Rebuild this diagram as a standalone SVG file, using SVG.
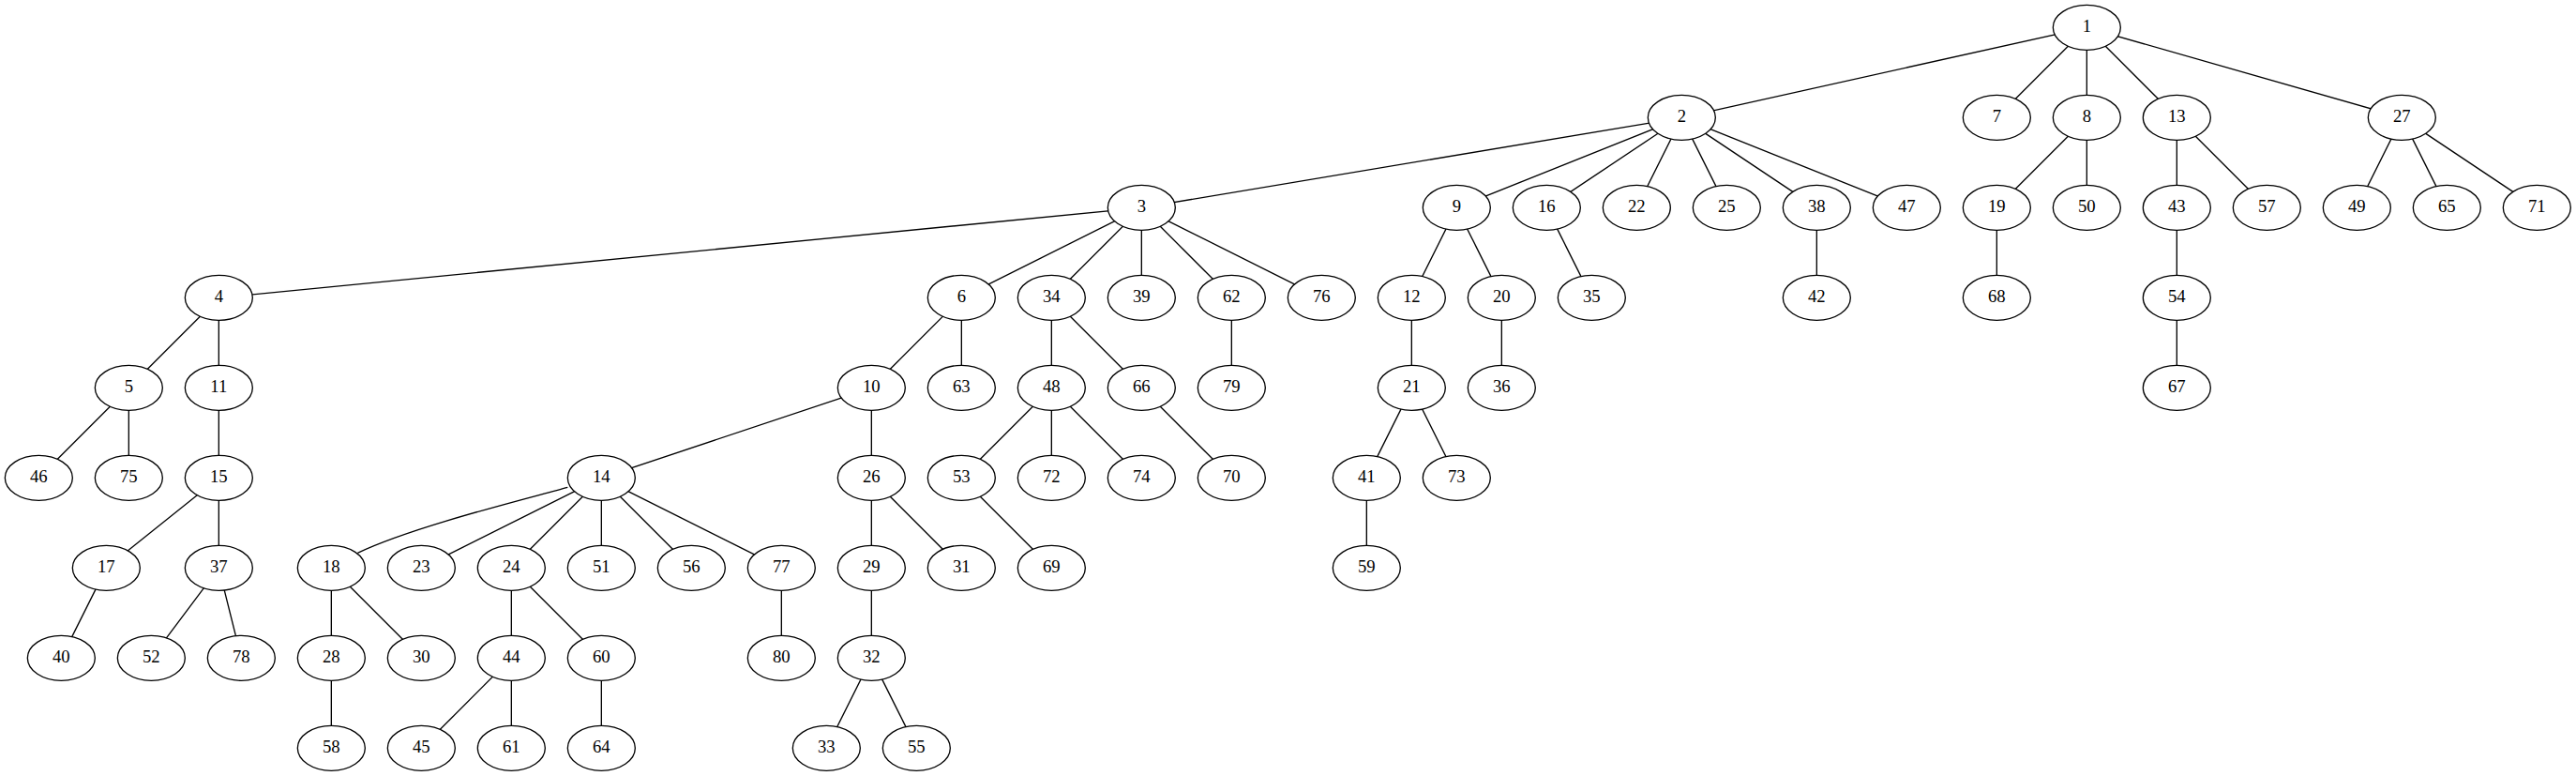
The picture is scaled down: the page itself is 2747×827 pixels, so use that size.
<svg xmlns="http://www.w3.org/2000/svg" width="2747" height="827" viewBox="0 0 2747 827">
<style>
.node ellipse{fill:#fff;stroke:#000;stroke-width:1}
.node text{font-family:"Liberation Serif","Times New Roman",serif;font-size:14px;text-anchor:middle;fill:#000}
#edges line,#edges path{stroke:#000;stroke-width:1;fill:none}
</style>
<rect x="0" y="0" width="2747" height="827" fill="#fff"/>
<g transform="scale(1.33333)">
<g id="edges">
<line x1="1669" y1="22" x2="1345" y2="94"/>
<line x1="1669" y1="22" x2="1597" y2="94"/>
<line x1="1669" y1="22" x2="1669" y2="94"/>
<line x1="1669" y1="22" x2="1741" y2="94"/>
<line x1="1669" y1="22" x2="1921" y2="94"/>
<line x1="1345" y1="94" x2="913" y2="166"/>
<line x1="1345" y1="94" x2="1165" y2="166"/>
<line x1="1345" y1="94" x2="1237" y2="166"/>
<line x1="1345" y1="94" x2="1309" y2="166"/>
<line x1="1345" y1="94" x2="1381" y2="166"/>
<line x1="1345" y1="94" x2="1453" y2="166"/>
<line x1="1345" y1="94" x2="1525" y2="166"/>
<line x1="1669" y1="94" x2="1597" y2="166"/>
<line x1="1669" y1="94" x2="1669" y2="166"/>
<line x1="1741" y1="94" x2="1741" y2="166"/>
<line x1="1741" y1="94" x2="1813" y2="166"/>
<line x1="1921" y1="94" x2="1885" y2="166"/>
<line x1="1921" y1="94" x2="1957" y2="166"/>
<line x1="1921" y1="94" x2="2029" y2="166"/>
<line x1="913" y1="166" x2="175" y2="238"/>
<line x1="913" y1="166" x2="769" y2="238"/>
<line x1="913" y1="166" x2="841" y2="238"/>
<line x1="913" y1="166" x2="913" y2="238"/>
<line x1="913" y1="166" x2="985" y2="238"/>
<line x1="913" y1="166" x2="1057" y2="238"/>
<line x1="1165" y1="166" x2="1129" y2="238"/>
<line x1="1165" y1="166" x2="1201" y2="238"/>
<line x1="1237" y1="166" x2="1273" y2="238"/>
<line x1="1453" y1="166" x2="1453" y2="238"/>
<line x1="1597" y1="166" x2="1597" y2="238"/>
<line x1="1741" y1="166" x2="1741" y2="238"/>
<line x1="175" y1="238" x2="103" y2="310"/>
<line x1="175" y1="238" x2="175" y2="310"/>
<line x1="769" y1="238" x2="697" y2="310"/>
<line x1="769" y1="238" x2="769" y2="310"/>
<line x1="841" y1="238" x2="841" y2="310"/>
<line x1="841" y1="238" x2="913" y2="310"/>
<line x1="985" y1="238" x2="985" y2="310"/>
<line x1="1129" y1="238" x2="1129" y2="310"/>
<line x1="1201" y1="238" x2="1201" y2="310"/>
<line x1="1741" y1="238" x2="1741" y2="310"/>
<line x1="103" y1="310" x2="31" y2="382"/>
<line x1="103" y1="310" x2="103" y2="382"/>
<line x1="175" y1="310" x2="175" y2="382"/>
<line x1="697" y1="310" x2="481" y2="382"/>
<line x1="697" y1="310" x2="697" y2="382"/>
<line x1="841" y1="310" x2="769" y2="382"/>
<line x1="841" y1="310" x2="841" y2="382"/>
<line x1="841" y1="310" x2="913" y2="382"/>
<line x1="913" y1="310" x2="985" y2="382"/>
<line x1="1129" y1="310" x2="1093" y2="382"/>
<line x1="1129" y1="310" x2="1165" y2="382"/>
<line x1="175" y1="382" x2="85" y2="454"/>
<line x1="175" y1="382" x2="175" y2="454"/>
<path d="M454,389.5 C420,399 330,421 286,442"/>
<line x1="481" y1="382" x2="337" y2="454"/>
<line x1="481" y1="382" x2="409" y2="454"/>
<line x1="481" y1="382" x2="481" y2="454"/>
<line x1="481" y1="382" x2="553" y2="454"/>
<line x1="481" y1="382" x2="625" y2="454"/>
<line x1="697" y1="382" x2="697" y2="454"/>
<line x1="697" y1="382" x2="769" y2="454"/>
<line x1="769" y1="382" x2="841" y2="454"/>
<line x1="1093" y1="382" x2="1093" y2="454"/>
<line x1="85" y1="454" x2="49" y2="526"/>
<line x1="175" y1="454" x2="121" y2="526"/>
<line x1="175" y1="454" x2="193" y2="526"/>
<line x1="265" y1="454" x2="265" y2="526"/>
<line x1="265" y1="454" x2="337" y2="526"/>
<line x1="409" y1="454" x2="409" y2="526"/>
<line x1="409" y1="454" x2="481" y2="526"/>
<line x1="625" y1="454" x2="625" y2="526"/>
<line x1="697" y1="454" x2="697" y2="526"/>
<line x1="265" y1="526" x2="265" y2="598"/>
<line x1="409" y1="526" x2="337" y2="598"/>
<line x1="409" y1="526" x2="409" y2="598"/>
<line x1="481" y1="526" x2="481" y2="598"/>
<line x1="697" y1="526" x2="661" y2="598"/>
<line x1="697" y1="526" x2="733" y2="598"/>
</g>
<g id="n1" class="node"><ellipse cx="1669" cy="22" rx="27" ry="18"/><text x="1669" y="25.7">1</text></g>
<g id="n2" class="node"><ellipse cx="1345" cy="94" rx="27" ry="18"/><text x="1345" y="97.7">2</text></g>
<g id="n7" class="node"><ellipse cx="1597" cy="94" rx="27" ry="18"/><text x="1597" y="97.7">7</text></g>
<g id="n8" class="node"><ellipse cx="1669" cy="94" rx="27" ry="18"/><text x="1669" y="97.7">8</text></g>
<g id="n13" class="node"><ellipse cx="1741" cy="94" rx="27" ry="18"/><text x="1741" y="97.7">13</text></g>
<g id="n27" class="node"><ellipse cx="1921" cy="94" rx="27" ry="18"/><text x="1921" y="97.7">27</text></g>
<g id="n3" class="node"><ellipse cx="913" cy="166" rx="27" ry="18"/><text x="913" y="169.7">3</text></g>
<g id="n9" class="node"><ellipse cx="1165" cy="166" rx="27" ry="18"/><text x="1165" y="169.7">9</text></g>
<g id="n16" class="node"><ellipse cx="1237" cy="166" rx="27" ry="18"/><text x="1237" y="169.7">16</text></g>
<g id="n22" class="node"><ellipse cx="1309" cy="166" rx="27" ry="18"/><text x="1309" y="169.7">22</text></g>
<g id="n25" class="node"><ellipse cx="1381" cy="166" rx="27" ry="18"/><text x="1381" y="169.7">25</text></g>
<g id="n38" class="node"><ellipse cx="1453" cy="166" rx="27" ry="18"/><text x="1453" y="169.7">38</text></g>
<g id="n47" class="node"><ellipse cx="1525" cy="166" rx="27" ry="18"/><text x="1525" y="169.7">47</text></g>
<g id="n19" class="node"><ellipse cx="1597" cy="166" rx="27" ry="18"/><text x="1597" y="169.7">19</text></g>
<g id="n50" class="node"><ellipse cx="1669" cy="166" rx="27" ry="18"/><text x="1669" y="169.7">50</text></g>
<g id="n43" class="node"><ellipse cx="1741" cy="166" rx="27" ry="18"/><text x="1741" y="169.7">43</text></g>
<g id="n57" class="node"><ellipse cx="1813" cy="166" rx="27" ry="18"/><text x="1813" y="169.7">57</text></g>
<g id="n49" class="node"><ellipse cx="1885" cy="166" rx="27" ry="18"/><text x="1885" y="169.7">49</text></g>
<g id="n65" class="node"><ellipse cx="1957" cy="166" rx="27" ry="18"/><text x="1957" y="169.7">65</text></g>
<g id="n71" class="node"><ellipse cx="2029" cy="166" rx="27" ry="18"/><text x="2029" y="169.7">71</text></g>
<g id="n4" class="node"><ellipse cx="175" cy="238" rx="27" ry="18"/><text x="175" y="241.7">4</text></g>
<g id="n6" class="node"><ellipse cx="769" cy="238" rx="27" ry="18"/><text x="769" y="241.7">6</text></g>
<g id="n34" class="node"><ellipse cx="841" cy="238" rx="27" ry="18"/><text x="841" y="241.7">34</text></g>
<g id="n39" class="node"><ellipse cx="913" cy="238" rx="27" ry="18"/><text x="913" y="241.7">39</text></g>
<g id="n62" class="node"><ellipse cx="985" cy="238" rx="27" ry="18"/><text x="985" y="241.7">62</text></g>
<g id="n76" class="node"><ellipse cx="1057" cy="238" rx="27" ry="18"/><text x="1057" y="241.7">76</text></g>
<g id="n12" class="node"><ellipse cx="1129" cy="238" rx="27" ry="18"/><text x="1129" y="241.7">12</text></g>
<g id="n20" class="node"><ellipse cx="1201" cy="238" rx="27" ry="18"/><text x="1201" y="241.7">20</text></g>
<g id="n35" class="node"><ellipse cx="1273" cy="238" rx="27" ry="18"/><text x="1273" y="241.7">35</text></g>
<g id="n42" class="node"><ellipse cx="1453" cy="238" rx="27" ry="18"/><text x="1453" y="241.7">42</text></g>
<g id="n68" class="node"><ellipse cx="1597" cy="238" rx="27" ry="18"/><text x="1597" y="241.7">68</text></g>
<g id="n54" class="node"><ellipse cx="1741" cy="238" rx="27" ry="18"/><text x="1741" y="241.7">54</text></g>
<g id="n5" class="node"><ellipse cx="103" cy="310" rx="27" ry="18"/><text x="103" y="313.7">5</text></g>
<g id="n11" class="node"><ellipse cx="175" cy="310" rx="27" ry="18"/><text x="175" y="313.7">11</text></g>
<g id="n10" class="node"><ellipse cx="697" cy="310" rx="27" ry="18"/><text x="697" y="313.7">10</text></g>
<g id="n63" class="node"><ellipse cx="769" cy="310" rx="27" ry="18"/><text x="769" y="313.7">63</text></g>
<g id="n48" class="node"><ellipse cx="841" cy="310" rx="27" ry="18"/><text x="841" y="313.7">48</text></g>
<g id="n66" class="node"><ellipse cx="913" cy="310" rx="27" ry="18"/><text x="913" y="313.7">66</text></g>
<g id="n79" class="node"><ellipse cx="985" cy="310" rx="27" ry="18"/><text x="985" y="313.7">79</text></g>
<g id="n21" class="node"><ellipse cx="1129" cy="310" rx="27" ry="18"/><text x="1129" y="313.7">21</text></g>
<g id="n36" class="node"><ellipse cx="1201" cy="310" rx="27" ry="18"/><text x="1201" y="313.7">36</text></g>
<g id="n67" class="node"><ellipse cx="1741" cy="310" rx="27" ry="18"/><text x="1741" y="313.7">67</text></g>
<g id="n46" class="node"><ellipse cx="31" cy="382" rx="27" ry="18"/><text x="31" y="385.7">46</text></g>
<g id="n75" class="node"><ellipse cx="103" cy="382" rx="27" ry="18"/><text x="103" y="385.7">75</text></g>
<g id="n15" class="node"><ellipse cx="175" cy="382" rx="27" ry="18"/><text x="175" y="385.7">15</text></g>
<g id="n14" class="node"><ellipse cx="481" cy="382" rx="27" ry="18"/><text x="481" y="385.7">14</text></g>
<g id="n26" class="node"><ellipse cx="697" cy="382" rx="27" ry="18"/><text x="697" y="385.7">26</text></g>
<g id="n53" class="node"><ellipse cx="769" cy="382" rx="27" ry="18"/><text x="769" y="385.7">53</text></g>
<g id="n72" class="node"><ellipse cx="841" cy="382" rx="27" ry="18"/><text x="841" y="385.7">72</text></g>
<g id="n74" class="node"><ellipse cx="913" cy="382" rx="27" ry="18"/><text x="913" y="385.7">74</text></g>
<g id="n70" class="node"><ellipse cx="985" cy="382" rx="27" ry="18"/><text x="985" y="385.7">70</text></g>
<g id="n41" class="node"><ellipse cx="1093" cy="382" rx="27" ry="18"/><text x="1093" y="385.7">41</text></g>
<g id="n73" class="node"><ellipse cx="1165" cy="382" rx="27" ry="18"/><text x="1165" y="385.7">73</text></g>
<g id="n17" class="node"><ellipse cx="85" cy="454" rx="27" ry="18"/><text x="85" y="457.7">17</text></g>
<g id="n37" class="node"><ellipse cx="175" cy="454" rx="27" ry="18"/><text x="175" y="457.7">37</text></g>
<g id="n18" class="node"><ellipse cx="265" cy="454" rx="27" ry="18"/><text x="265" y="457.7">18</text></g>
<g id="n23" class="node"><ellipse cx="337" cy="454" rx="27" ry="18"/><text x="337" y="457.7">23</text></g>
<g id="n24" class="node"><ellipse cx="409" cy="454" rx="27" ry="18"/><text x="409" y="457.7">24</text></g>
<g id="n51" class="node"><ellipse cx="481" cy="454" rx="27" ry="18"/><text x="481" y="457.7">51</text></g>
<g id="n56" class="node"><ellipse cx="553" cy="454" rx="27" ry="18"/><text x="553" y="457.7">56</text></g>
<g id="n77" class="node"><ellipse cx="625" cy="454" rx="27" ry="18"/><text x="625" y="457.7">77</text></g>
<g id="n29" class="node"><ellipse cx="697" cy="454" rx="27" ry="18"/><text x="697" y="457.7">29</text></g>
<g id="n31" class="node"><ellipse cx="769" cy="454" rx="27" ry="18"/><text x="769" y="457.7">31</text></g>
<g id="n69" class="node"><ellipse cx="841" cy="454" rx="27" ry="18"/><text x="841" y="457.7">69</text></g>
<g id="n59" class="node"><ellipse cx="1093" cy="454" rx="27" ry="18"/><text x="1093" y="457.7">59</text></g>
<g id="n40" class="node"><ellipse cx="49" cy="526" rx="27" ry="18"/><text x="49" y="529.7">40</text></g>
<g id="n52" class="node"><ellipse cx="121" cy="526" rx="27" ry="18"/><text x="121" y="529.7">52</text></g>
<g id="n78" class="node"><ellipse cx="193" cy="526" rx="27" ry="18"/><text x="193" y="529.7">78</text></g>
<g id="n28" class="node"><ellipse cx="265" cy="526" rx="27" ry="18"/><text x="265" y="529.7">28</text></g>
<g id="n30" class="node"><ellipse cx="337" cy="526" rx="27" ry="18"/><text x="337" y="529.7">30</text></g>
<g id="n44" class="node"><ellipse cx="409" cy="526" rx="27" ry="18"/><text x="409" y="529.7">44</text></g>
<g id="n60" class="node"><ellipse cx="481" cy="526" rx="27" ry="18"/><text x="481" y="529.7">60</text></g>
<g id="n80" class="node"><ellipse cx="625" cy="526" rx="27" ry="18"/><text x="625" y="529.7">80</text></g>
<g id="n32" class="node"><ellipse cx="697" cy="526" rx="27" ry="18"/><text x="697" y="529.7">32</text></g>
<g id="n58" class="node"><ellipse cx="265" cy="598" rx="27" ry="18"/><text x="265" y="601.7">58</text></g>
<g id="n45" class="node"><ellipse cx="337" cy="598" rx="27" ry="18"/><text x="337" y="601.7">45</text></g>
<g id="n61" class="node"><ellipse cx="409" cy="598" rx="27" ry="18"/><text x="409" y="601.7">61</text></g>
<g id="n64" class="node"><ellipse cx="481" cy="598" rx="27" ry="18"/><text x="481" y="601.7">64</text></g>
<g id="n33" class="node"><ellipse cx="661" cy="598" rx="27" ry="18"/><text x="661" y="601.7">33</text></g>
<g id="n55" class="node"><ellipse cx="733" cy="598" rx="27" ry="18"/><text x="733" y="601.7">55</text></g>
</g>
</svg>
